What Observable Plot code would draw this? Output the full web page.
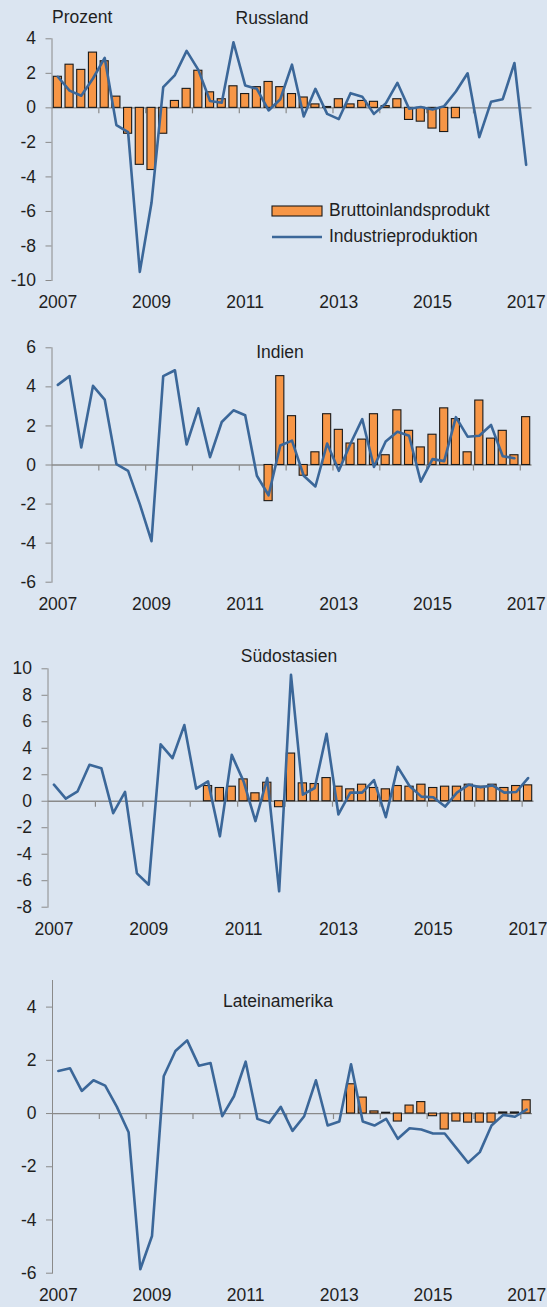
<!DOCTYPE html>
<html>
<head>
<meta charset="utf-8">
<script src="https://cdn.jsdelivr.net/npm/d3@7"></script>
<script src="https://cdn.jsdelivr.net/npm/@observablehq/plot@0.6"></script>
<style>
  html, body { margin: 0; padding: 0; background: #dbe5f1; }
  #root { position: relative; width: 547px; height: 1307px; overflow: hidden; background: #dbe5f1;
          font-family: "Liberation Sans", Arial, sans-serif; color: #1f1f1f; }
  .panel { position: absolute; left: 0; width: 547px; }
  .panel svg text { fill: #1f1f1f; }
  .lbl { position: absolute; font-size: 17.5px; white-space: nowrap; line-height: 1; }
  .ctr { transform: translate(-50%, -50%); }
  .lft { transform: translate(0, -50%); }
</style>
</head>
<body>
<div id="root"></div>
<script>
// ---------- categories ----------
const quarters = [];
for (let y = 2007; y <= 2017; y++) for (let q = 1; q <= 4; q++) if (y < 2017 || q === 1) quarters.push(`${y}Q${q}`);
const yearLabels = ["2007", "2009", "2011", "2013", "2015", "2017"];
const seriesNames = ["Bruttoinlandsprodukt", "Industrieproduktion"];

// ---------- data (quarter-on-quarter change, %) ----------
const russlandBIP = [1.8, 2.5, 2.2, 3.2, 2.7, 0.65, -1.5, -3.3, -3.6, -1.5, 0.4, 1.1, 2.15, 0.9, 0.5, 1.25, 0.8, 1.2, 1.5, 1.2,
  0.8, 0.6, 0.2, 0.05, 0.5, 0.2, 0.4, 0.35, 0.1, 0.5, -0.7, -0.8, -1.2, -1.4, -0.6, null, null, null, null, null, null];
const russlandIP = [1.8, 1.0, 0.7, 1.7, 2.9, -1.0, -1.4, -9.5, -5.5, 1.2, 1.9, 3.3, 2.2, 0.4, 0.3, 3.8, 1.3, 1.1, -0.15, 0.5,
  2.5, -0.5, 1.1, -0.35, -0.65, 0.85, 0.65, -0.35, 0.25, 1.45, -0.05, 0.05, -0.1, 0.1, 0.95, 2.0, -1.7, 0.35, 0.5, 2.6, -3.3];

const indienBIP = [null, null, null, null, null, null, null, null, null, null, null, null, null, null, null, null, null, null,
  -1.85, 4.55, 2.5, -0.55, 0.65, 2.6, 1.8, 1.1, 1.3, 2.6, 0.5, 2.8, 1.75, 0.9, 1.55, 2.9, 2.35, 0.65, 3.3, 1.35, 1.75, 0.5, 2.45];
const indienIP = [4.1, 4.55, 0.9, 4.05, 3.35, 0.05, -0.3, -2.0, -3.9, 4.55, 4.85, 1.05, 2.9, 0.4, 2.2, 2.8, 2.55, -0.55, -1.55, 1.0,
  1.25, -0.55, -1.1, 1.1, -0.3, 1.1, 2.35, -0.1, 1.2, 1.7, 1.5, -0.85, 0.3, 0.2, 2.45, 1.45, 1.5, 2.05, 0.45, 0.35, null];

const suedostasienBIP = [null, null, null, null, null, null, null, null, null, null, null, null, null,
  1.15, 1.0, 1.1, 1.65, 0.6, 1.4, -0.45, 3.6, 1.35, 1.3, 1.75, 1.1, 0.9, 1.25, 1.0, 0.9, 1.15, 1.1, 1.25, 1.0, 1.1, 1.1, 1.25, 1.1, 1.25, 1.0, 1.15, 1.2];
const suedostasienIP = [1.25, 0.2, 0.75, 2.75, 2.5, -0.9, 0.7, -5.45, -6.3, 4.3, 3.25, 5.75, 0.95, 1.5, -2.65, 3.5, 1.5, -1.5, 1.75, -6.8,
  9.55, 0.5, 1.0, 5.1, -1.0, 0.65, 0.65, 1.6, -1.2, 2.6, 1.15, 0.35, 0.3, -0.4, 0.65, 1.25, 1.05, 1.2, 0.65, 0.7, 1.75];

const lateinamerikaBIP = [null, null, null, null, null, null, null, null, null, null, null, null, null, null, null, null, null, null, null, null, null, null, null, null, null,
  1.1, 0.6, 0.08, 0.03, -0.3, 0.3, 0.43, -0.1, -0.6, -0.3, -0.34, -0.34, -0.34, 0.04, 0.04, 0.5];
const lateinamerikaIP = [1.6, 1.7, 0.85, 1.25, 1.05, 0.25, -0.7, -5.85, -4.6, 1.4, 2.35, 2.75, 1.8, 1.9, -0.1, 0.65, 1.95, -0.2, -0.35, 0.25,
  -0.65, -0.1, 1.25, -0.45, -0.3, 1.85, -0.3, -0.45, -0.2, -0.95, -0.55, -0.6, -0.75, -0.75, -1.3, -1.85, -1.45, -0.45, -0.05, -0.12, 0.15];

// ---------- y axis ticks ----------
const ticksRussland = [4, 2, 0, -2, -4, -6, -8, -10];
const ticksIndien = [6, 4, 2, 0, -2, -4, -6];
const ticksSuedostasien = [10, 8, 6, 4, 2, 0, -2, -4, -6, -8];
const ticksLateinamerika = [4, 2, 0, -2, -4, -6];

// ---------- styling ----------
const ORANGE = "#f79646";
const BLUE = "#3b6799";
const GRAY = "#8a8a8a";

const labelIdx = yearLabels.map(y => quarters.indexOf(y + "Q1"));
const yearBoundaries = quarters.map((q, i) => (q.endsWith("Q1") && i > 0 ? i - 0.5 : null)).filter(d => d != null);
const tickSymbol = { draw(context) { context.moveTo(0, 0); context.lineTo(0, 5.5); } };

const toRows = arr => arr.map((v, i) => ({ i, q: quarters[i], v })).filter(d => d.v != null);

const root = document.getElementById("root");

function panel({ top, height, mt, mb, ml, mr, domain, ticks, bip, ip }) {
  const div = document.createElement("div");
  div.className = "panel";
  div.style.top = top + "px";
  const svg = Plot.plot({
    width: 547, height,
    marginTop: mt, marginBottom: mb, marginLeft: ml, marginRight: mr,
    style: { background: "transparent", fontFamily: "'Liberation Sans', Arial, sans-serif", fontSize: "17.5px", color: GRAY, overflow: "visible" },
    x: { domain: [-0.5, quarters.length - 0.5], ticks: labelIdx, tickFormat: d => yearLabels[labelIdx.indexOf(d)], tickSize: 0, tickPadding: 15, label: null },
    y: { domain, ticks, tickFormat: d => String(d), tickSize: 6, tickPadding: 10, line: true, label: null },
    marks: [
      Plot.ruleY([0], { stroke: GRAY, strokeWidth: 1.3 }),
      Plot.dot(yearBoundaries, { x: d => d, y: () => 0, symbol: tickSymbol, stroke: GRAY, fill: "none", strokeWidth: 1.2 }),
      Plot.rect(toRows(bip), { x1: d => d.i - 0.5, x2: d => d.i + 0.5, y1: () => 0, y2: "v", insetLeft: 1.8, insetRight: 1.8, fill: ORANGE, stroke: "#1a1a1a", strokeWidth: 1.1 }),
      Plot.line(toRows(ip), { x: "i", y: "v", stroke: BLUE, strokeWidth: 2.6, strokeLinejoin: "round" })
    ]
  });
  div.appendChild(svg);
  root.appendChild(div);
}

function label(text, x, y, cls) {
  const el = document.createElement("div");
  el.className = "lbl " + cls;
  el.style.left = x + "px";
  el.style.top = y + "px";
  el.textContent = text;
  root.appendChild(el);
  return el;
}

panel({ top: 0, height: 320, mt: 38.3, mb: 40, ml: 51.5, mr: 15.5, domain: [-10, 4], ticks: ticksRussland, bip: russlandBIP, ip: russlandIP });
panel({ top: 320, height: 320, mt: 27.3, mb: 58.3, ml: 51.5, mr: 15.5, domain: [-6, 6], ticks: ticksIndien, bip: indienBIP, ip: indienIP });
panel({ top: 640, height: 320, mt: 28.3, mb: 53.3, ml: 47.5, mr: 13.5, domain: [-8, 10], ticks: ticksSuedostasien, bip: suedostasienBIP, ip: suedostasienIP });
panel({ top: 960, height: 347, mt: 20, mb: 34.3, ml: 52, mr: 15, domain: [-6, 5], ticks: ticksLateinamerika, bip: lateinamerikaBIP, ip: lateinamerikaIP });

// titles
label("Prozent", 52, 18, "lft");
label("Russland", 272, 19, "ctr");
label("Indien", 280, 353, "ctr");
label("Südostasien", 289, 657, "ctr");
label("Lateinamerika", 278, 1002, "ctr");

// legend (panel 1)
const legSvg = document.createElementNS("http://www.w3.org/2000/svg", "svg");
legSvg.setAttribute("width", "60"); legSvg.setAttribute("height", "50");
legSvg.style.position = "absolute"; legSvg.style.left = "268px"; legSvg.style.top = "200px";
legSvg.innerHTML = `<rect x="4" y="6" width="50" height="10" fill="${ORANGE}" stroke="#1a1a1a" stroke-width="1.1"/>
  <line x1="4" x2="54" y1="37" y2="37" stroke="${BLUE}" stroke-width="2.6"/>`;
root.appendChild(legSvg);
label(seriesNames[0], 329, 211, "lft");
label(seriesNames[1], 329, 237, "lft");
</script>
</body>
</html>
